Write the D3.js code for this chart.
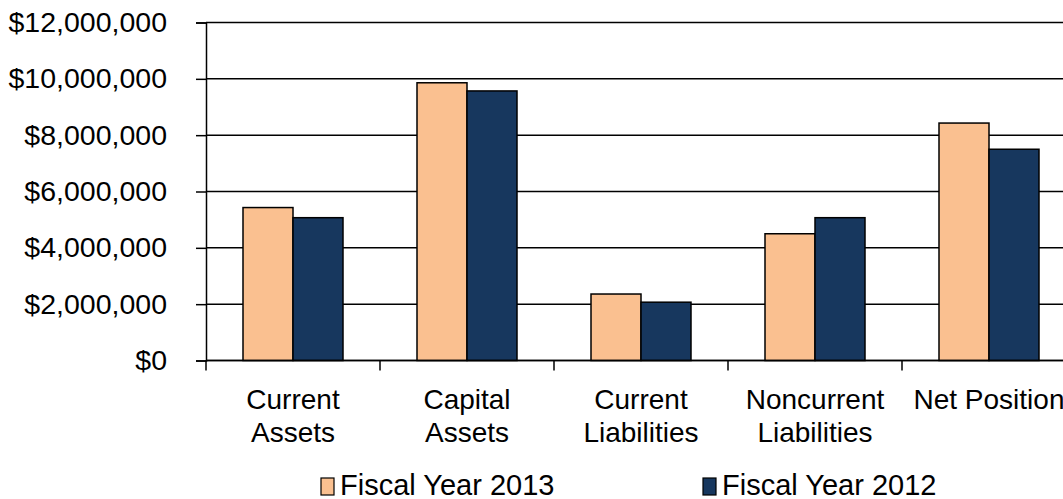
<!DOCTYPE html>
<html>
<head>
<meta charset="utf-8">
<script src="https://cdn.jsdelivr.net/npm/d3@7"></script>
<style>
  body { margin: 0; background: #fff; }
  svg { display: block; font-family: "Liberation Sans", Arial, sans-serif; }
</style>
</head>
<body>
<svg id="chart" width="1063" height="499"></svg>
<script>
// values
const categories = [["Current", "Assets"], ["Capital", "Assets"], ["Current", "Liabilities"], ["Noncurrent", "Liabilities"], ["Net Position"]];
const fy2013 = [5430000, 9860000, 2360000, 4500000, 8430000];
const fy2012 = [5070000, 9570000, 2070000, 5070000, 7500000];
const seriesNames = ["Fiscal Year 2013", "Fiscal Year 2012"];
const yTicks = [0, 2000000, 4000000, 6000000, 8000000, 10000000, 12000000];

const colors = ["#FAC090", "#17375E"];
const svg = d3.select("#chart");

const plotLeft = 206, plotTop = 22.5, plotBottom = 360.5, step = 174;

let keys = categories.map(c => c.join(" "));
let x = d3.scaleBand().domain(keys).range([plotLeft, plotLeft + step * keys.length]);
let y = d3.scaleLinear().domain([0, 12000000]).range([plotBottom, plotTop]);
let barW = 50;

// title, mostly cut off at the top edge
svg.append("text")
  .attr("x", 640).attr("y", -1.5)
  .attr("text-anchor", "middle")
  .style("font-size", "26px")
  .style("fill", "#a0a0a0")
  .text("Statement of Net Position");

// gridlines
svg.append("g").selectAll("line")
  .data(yTicks)
  .enter().append("line")
  .attr("x1", plotLeft).attr("x2", 1063)
  .attr("y1", d => y(d)).attr("y2", d => y(d))
  .style("stroke", "#000").style("stroke-width", 1.5);

// y axis
let yAxis = svg.append("g")
  .attr("transform", `translate(${plotLeft},0)`)
  .call(d3.axisLeft(y).tickValues(yTicks).tickSize(10).tickPadding(29)
    .tickFormat(d => "$" + d3.format(",")(d)));
yAxis.select(".domain").style("stroke-width", 1.5);
yAxis.selectAll(".tick line").style("stroke-width", 1.5);
yAxis.selectAll("text").style("font-size", "28.5px").style("fill", "#000");

// bars
let groups = svg.append("g").selectAll("g")
  .data(keys)
  .enter().append("g")
  .attr("transform", d => `translate(${x(d) + (step - 2 * barW) / 2},0)`);

groups.selectAll("rect")
  .data((d, i) => [fy2013[i], fy2012[i]])
  .enter().append("rect")
  .attr("x", (d, j) => j * barW)
  .attr("y", d => y(d))
  .attr("width", barW)
  .attr("height", d => plotBottom - y(d))
  .style("fill", (d, j) => colors[j])
  .style("stroke", "#000")
  .style("stroke-width", 1.5);

// x axis
let xAxis = svg.append("g").attr("transform", `translate(0,${plotBottom})`);
xAxis.append("line")
  .attr("x1", plotLeft).attr("x2", 1063)
  .style("stroke", "#000").style("stroke-width", 1.5);
xAxis.selectAll(".xt")
  .data(d3.range(keys.length + 1))
  .enter().append("line")
  .attr("x1", i => plotLeft + i * step).attr("x2", i => plotLeft + i * step)
  .attr("y1", 0).attr("y2", 10)
  .style("stroke", "#000").style("stroke-width", 1.5);

let labels = xAxis.selectAll(".xl")
  .data(categories)
  .enter().append("text")
  .attr("text-anchor", "middle")
  .attr("transform", (d, i) => `translate(${x(keys[i]) + step / 2},0)`)
  .style("font-size", "28px").style("fill", "#000");
labels.selectAll("tspan")
  .data(d => d)
  .enter().append("tspan")
  .attr("x", 0)
  .attr("y", (d, k) => 48.5 + k * 33)
  .text(d => d);

// legend
let legend = svg.append("g").selectAll("g")
  .data(seriesNames)
  .enter().append("g")
  .attr("transform", (d, i) => `translate(${[321, 703][i]},478)`);
legend.append("rect")
  .attr("width", 13).attr("height", 17)
  .style("fill", (d, i) => colors[i])
  .style("stroke", "#000").style("stroke-width", 1.2);
legend.append("text")
  .attr("x", 19).attr("y", 16.5)
  .style("font-size", "29px").style("fill", "#000")
  .text(d => d);
</script>
</body>
</html>
